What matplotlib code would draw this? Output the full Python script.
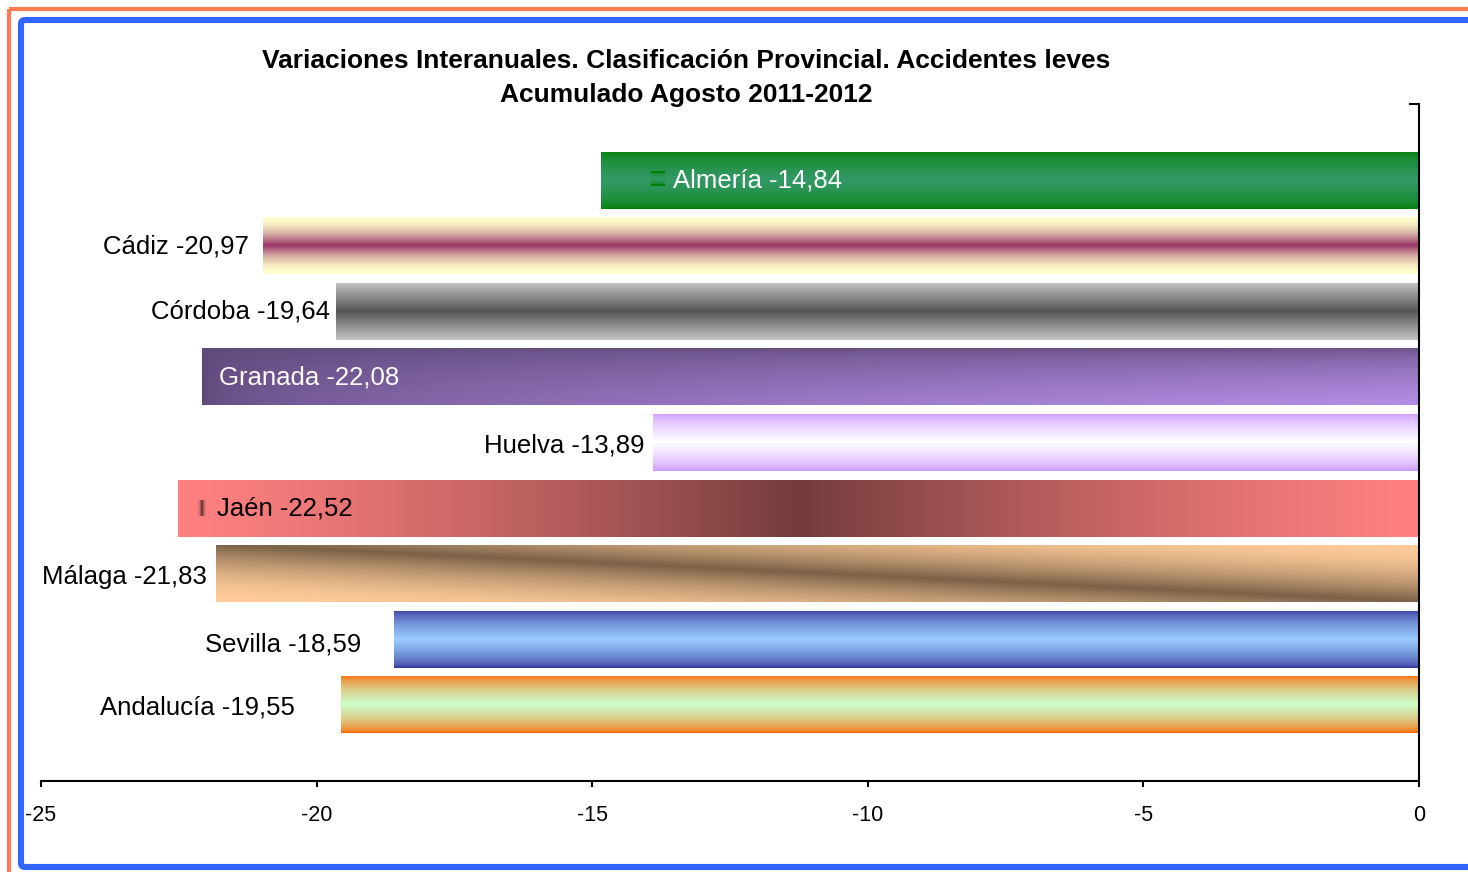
import numpy as np
import matplotlib
matplotlib.use('Agg')
import matplotlib.pyplot as plt
from matplotlib.colors import to_rgb
from matplotlib.patches import FancyBboxPatch

# datos
provincias = ['Almería', 'Cádiz', 'Córdoba', 'Granada', 'Huelva',
              'Jaén', 'Málaga', 'Sevilla', 'Andalucía']
variacion = [-14.84, -20.97, -19.64, -22.08, -13.89, -22.52, -21.83, -18.59, -19.55]
xticks = [-25, -20, -15, -10, -5, 0]
titulo1 = 'Variaciones Interanuales. Clasificación Provincial. Accidentes leves'
titulo2 = 'Acumulado Agosto 2011-2012'

# posicion de las etiquetas (movidas a mano en el original)
label_x = [-13.53, -21.23, -19.76, -21.77, -14.06, -21.81, -21.99, -19.19, -20.39]
label_ha = ['left', 'right', 'right', 'left', 'right', 'left', 'right', 'right', 'right']
label_col = ['white', 'black', 'black', 'white', 'black', 'black', 'black', 'black', 'black']
label_dy = [0, 0.01, 0.01, 0.01, 0.04, 0.01, 0.05, 0.08, 0.04]

# (tipo, color borde, color centro, potencia)
estilos = [
    ('v', '#008000', '#339966', 0.5),
    ('v', '#FFFFCC', '#993366', 1.8),
    ('v', '#C4C4C4', '#555555', 1.0),
    ('corner', '#5F497A', '#B48EE6', 1.0),
    ('v', '#CC99FF', '#FFFFFF', 0.7),
    ('h', '#FF8080', '#733C3C', 1.3),
    ('diag', '#FFCC99', '#7A6148', 1.8),
    ('v', '#333399', '#99CCFF', 0.6),
    ('v', '#FF6600', '#CCFFCC', 0.6),
]

plt.rcParams['font.family'] = ['Liberation Sans', 'DejaVu Sans']


def gradiente(tipo, c0, c1, p, rows=80, cols=300):
    u = np.linspace(0, 1, cols)[None, :]
    v = np.linspace(0, 1, rows)[:, None]
    if tipo == 'v':
        t = 1 - np.abs(2 * v - 1) + 0 * u
    elif tipo == 'h':
        t = 1 - np.abs(2 * u - 1) + 0 * v
    elif tipo == 'diag':
        t = 1 - np.abs(v - u)
    else:
        t = np.sqrt(u * v)
    t = np.clip(t, 0, 1) ** p
    a = np.array(to_rgb(c0))
    b = np.array(to_rgb(c1))
    return a + (b - a) * t[..., None]


W, H = 1468, 872
fig = plt.figure(figsize=(W / 100, H / 100), dpi=100)

# marcos
bg = fig.add_axes([0, 0, 1, 1])
bg.set_xlim(0, W)
bg.set_ylim(H, 0)
bg.axis('off')
bg.add_patch(FancyBboxPatch((9, 9), 1600, 1000, boxstyle='square,pad=0',
                            fill=False, ec='#FF7C50', lw=3))
bg.add_patch(FancyBboxPatch((21, 20), 1600, 847, boxstyle='round,pad=0,rounding_size=4',
                            fill=False, ec='#3366FF', lw=4.4))

ax = fig.add_axes([41 / W, 1 - 781 / H, 1378 / W, 677 / H])
ax.patch.set_alpha(0)
y = np.arange(len(provincias))
bars = ax.barh(y, variacion, height=0.87, color='none', edgecolor='none')

for bar, est in zip(bars, estilos):
    bb = bar.get_bbox()
    img = gradiente(*est)
    im = ax.imshow(img, extent=(bb.xmin, bb.xmax, bb.ymax, bb.ymin),
                   aspect='auto', interpolation='bilinear', zorder=1)
    im.set_clip_path(bar)

for i, (nom, val) in enumerate(zip(provincias, variacion)):
    txt = f'{nom} {val:.2f}'.replace('.', ',')
    ax.text(label_x[i], i + label_dy[i], txt, ha=label_ha[i], va='center',
            fontsize=18.5, color=label_col[i], zorder=3)

# claves de leyenda junto a Almería y Jaén
ax.imshow(gradiente(*estilos[0], rows=9, cols=4), extent=(-13.94, -13.69, 0.09, -0.13),
          aspect='auto', interpolation='nearest', zorder=3)
ax.imshow(gradiente(*estilos[5], rows=4, cols=7), extent=(-22.17, -21.99, 5.12, 4.88),
          aspect='auto', interpolation='nearest', zorder=3)
ax.set_xlim(-25, 0)
ax.set_ylim(9.16, -1.16)

for s in ['top', 'left']:
    ax.spines[s].set_visible(False)
for s in ['bottom', 'right']:
    ax.spines[s].set_linewidth(1.5)
    ax.spines[s].set_zorder(4)

ax.set_xticks(xticks)
ax.set_xticklabels([str(t) for t in xticks])
ax.tick_params(axis='x', direction='out', length=4.5, width=1.5, pad=13, labelsize=15.5)
ax.yaxis.tick_right()
ax.set_yticks([-1.16])
ax.set_yticklabels([''])
ax.tick_params(axis='y', direction='in', length=7, width=1.5)

fig.text(686 / W, 1 - 61 / H, titulo1, ha='center', va='center',
         fontsize=19, fontweight='bold')
fig.text(686 / W, 1 - 95 / H, titulo2, ha='center', va='center',
         fontsize=19, fontweight='bold')

fig.savefig('out.png', dpi=100)
